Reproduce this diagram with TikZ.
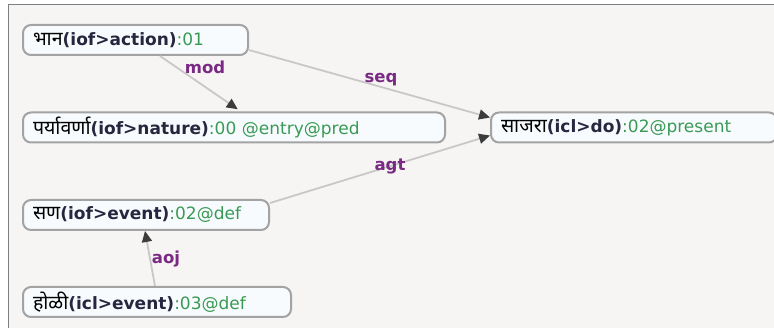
\documentclass[tikz,border=0pt]{standalone}
\usepackage{fontspec}
\setmainfont{DejaVu Sans}
\newfontfamily\deva[Script=Devanagari,Scale=1.15]{Noto Sans}
\usetikzlibrary{arrows.meta}
\definecolor{framebg}{HTML}{F6F5F3}
\definecolor{framegrey}{HTML}{7F7F7F}
\definecolor{nodefill}{HTML}{F7FBFD}
\definecolor{nodeborder}{HTML}{A3A3A3}
\definecolor{latinink}{HTML}{26263E}
\definecolor{attrgreen}{HTML}{3A9A55}
\definecolor{relpurple}{HTML}{7A2A84}
\definecolor{edgegrey}{HTML}{C8C8C8}
\definecolor{tipgrey}{HTML}{3C3C3C}
\newcommand{\uw}[3]{{\deva #1}{\bfseries\color{latinink}#2}{\color{attrgreen}#3}}
\tikzset{
  uwnode/.style={draw=nodeborder, line width=2pt, fill=nodefill, rounded corners=8pt,
    minimum height=30pt, inner xsep=10pt, inner ysep=0pt, text width=#1, align=left,
    anchor=west, font=\fontsize{17}{18}\selectfont},
  rel/.style={draw=edgegrey, line width=1.8pt,
    -{Triangle[length=11pt,width=10pt,color=tipgrey]}},
  rellabel/.style={text=relpurple, font=\fontsize{16.5}{18}\selectfont\bfseries}
}
\begin{document}
\begin{tikzpicture}[x=1pt,y=-1pt]
\useasboundingbox (0,0) rectangle (774,328);
\fill[white] (0,0) rectangle (774,328);
\filldraw[fill=framebg, draw=framegrey, line width=1.5pt] (8.5,4.5) rectangle (790,340);

\node[uwnode=205pt] (bhan) at (22,40) {\uw{भान}{(iof>action)}{:01}};
\node[uwnode=402pt] (parya) at (22,127.5) {\uw{पर्यावर्णा}{(iof>nature)}{:00 @entry@pred}};
\node[uwnode=266pt] (sajara) at (490,127.5) {\uw{साजरा}{(icl>do)}{:02@present}};
\node[uwnode=226pt] (san) at (22,215) {\uw{सण}{(iof>event)}{:02@def}};
\node[uwnode=248pt] (holi) at (22,302) {\uw{होळी}{(icl>event)}{:03@def}};

\draw[rel, shorten >=4pt] ([xshift=138pt]bhan.south west) -- ([xshift=219pt]parya.north west);
\draw[rel] ([yshift=-10pt]bhan.east) -- ([yshift=10pt]sajara.west);
\draw[rel] ([yshift=12pt]san.east) -- ([yshift=-8pt]sajara.west);
\draw[rel] ([xshift=133pt]holi.north west) -- ([xshift=123pt]san.south west);

\node[rellabel] (lmod) at (205,67) {mod};
\node[rellabel] (lseq) at (381,80) {seq};
\node[rellabel] (lagt) at (390,166) {agt};
\node[rellabel] (laoj) at (166,259) {aoj};
\end{tikzpicture}
\end{document}
